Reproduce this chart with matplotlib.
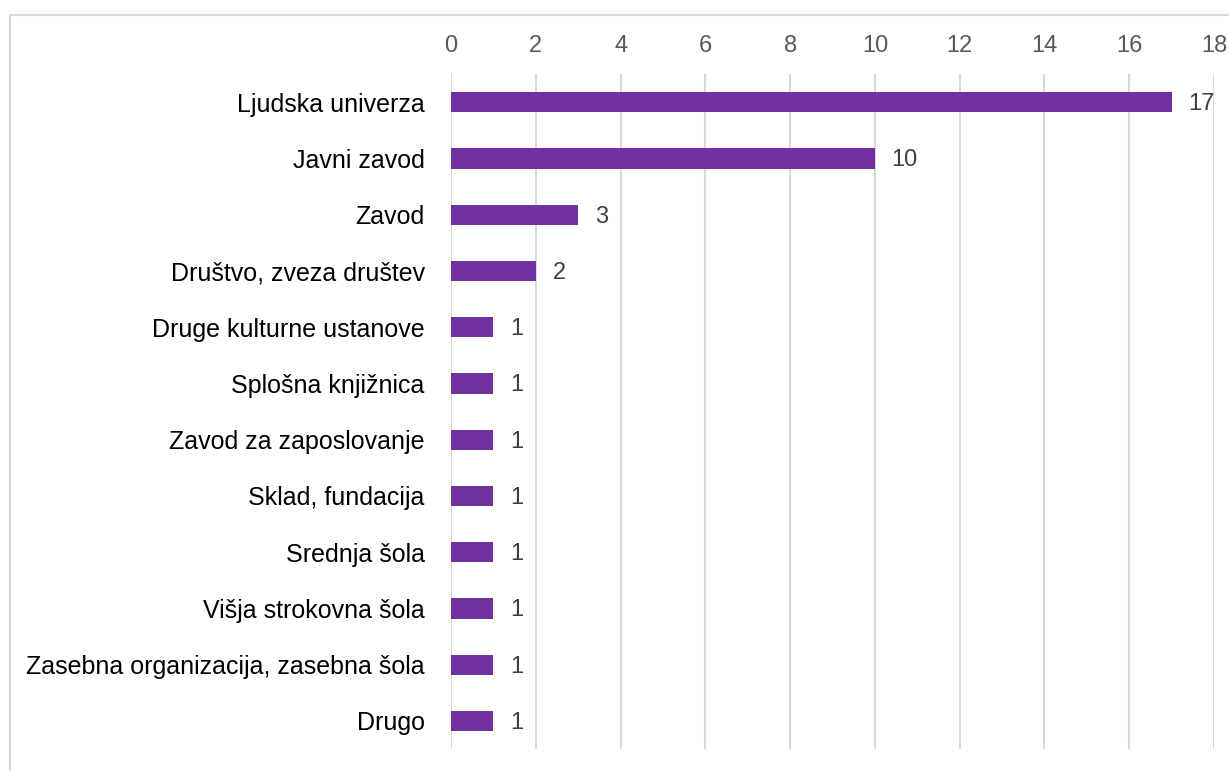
import matplotlib.pyplot as plt
from matplotlib.lines import Line2D

# data
categories = ["Ljudska univerza", "Javni zavod", "Zavod", "Društvo, zveza društev",
              "Druge kulturne ustanove", "Splošna knjižnica", "Zavod za zaposlovanje",
              "Sklad, fundacija", "Srednja šola", "Višja strokovna šola",
              "Zasebna organizacija, zasebna šola", "Drugo"]
values = [17, 10, 3, 2, 1, 1, 1, 1, 1, 1, 1, 1]
xticks = list(range(0, 19, 2))

fig = plt.figure(figsize=(12.29, 7.71), dpi=100)
ax = fig.add_axes([0.367, 0.0285, 0.6208, 0.8755])

ypos = list(range(len(categories)))
ax.barh(ypos, values, height=0.36, color="#7030A0", zorder=3)

for y, v in zip(ypos, values):
    ax.annotate(str(v), (v, y), xytext=(12, -1.5), textcoords="offset points",
                va="center", ha="left", fontsize=17, color="#404040",
                family="Liberation Sans")

ax.set_xlim(0, 18)
ax.set_ylim(len(categories) - 0.5, -0.5)
ax.set_xticks(xticks)
ax.set_yticks(ypos)
ax.set_yticklabels(categories, fontsize=18, family="Liberation Sans", color="black")
ax.xaxis.tick_top()
ax.tick_params(axis="x", length=0, pad=12, labelsize=17, labelcolor="#595959")
ax.tick_params(axis="y", length=0, pad=19)
for lbl in ax.get_xticklabels():
    lbl.set_family("Liberation Sans")
ax.grid(axis="x", color="#d9d9d9", linewidth=1.5, zorder=0)
for s in ax.spines.values():
    s.set_visible(False)

# chart frame (cropped)
fig.add_artist(Line2D([10 / 1229, 1], [1 - 15 / 771, 1 - 15 / 771], color="#d9d9d9", lw=1.5))
fig.add_artist(Line2D([10 / 1229, 10 / 1229], [0, 1 - 15 / 771], color="#d9d9d9", lw=1.5))

fig.savefig("out.png", dpi=100)
